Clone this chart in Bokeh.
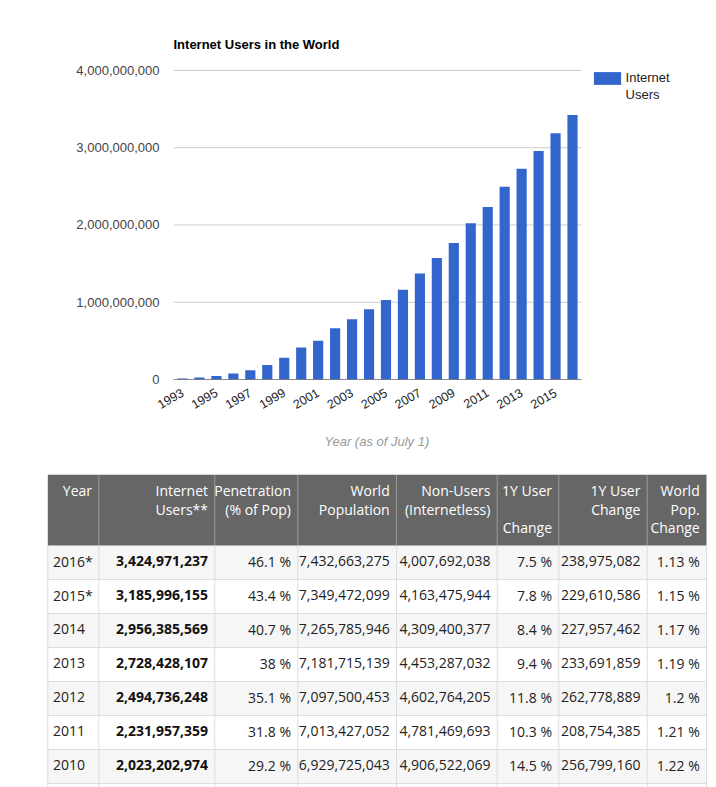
import math
from bokeh.plotting import figure
from bokeh.models import (Range1d, FixedTicker, NumeralTickFormatter, ColumnDataSource,
                          Legend, LegendItem, Title)
from bokeh.embed import file_html
from bokeh.resources import INLINE
from bokeh.core.properties import value

# ---------------- data ----------------
years = list(range(1993, 2017))
internet_users = [14161570, 25454590, 44838900, 77433860, 120758310, 188023930,
                  280866670, 413425190, 500609240, 662663600, 778555680, 910060180,
                  1027580990, 1160335280, 1373226988, 1571601630, 1766206240,
                  2023202974, 2231957359, 2494736248, 2728428107, 2956385569,
                  3185996155, 3424971237]
y_ticks = [0, 1000000000, 2000000000, 3000000000, 4000000000]
x_ticks = list(range(1993, 2016, 2))
legend_lines = ["Internet", "Users"]

table_years = ["2016*", "2015*", "2014", "2013", "2012", "2011", "2010"]
table_users = [3424971237, 3185996155, 2956385569, 2728428107, 2494736248, 2231957359, 2023202974]
penetration = ["46.1 %", "43.4 %", "40.7 %", "38 %", "35.1 %", "31.8 %", "29.2 %"]
world_population = [7432663275, 7349472099, 7265785946, 7181715139, 7097500453, 7013427052, 6929725043]
non_users = [4007692038, 4163475944, 4309400377, 4453287032, 4602764205, 4781469693, 4906522069]
user_change_pct = ["7.5 %", "7.8 %", "8.4 %", "9.4 %", "11.8 %", "10.3 %", "14.5 %"]
user_change = [238975082, 229610586, 227957462, 233691859, 262778889, 208754385, 256799160]
pop_change_pct = ["1.13 %", "1.15 %", "1.17 %", "1.19 %", "1.2 %", "1.21 %", "1.22 %"]
header_lines = [["Year"], ["Internet", "Users**"], ["Penetration", "(% of Pop)"],
                ["World", "Population"], ["Non-Users", "(Internetless)"],
                ["1Y User", "", "Change"], ["1Y User", "Change"], ["World", "Pop.", "Change"]]

# ---------------- chart ----------------
FONT = "Liberation Sans"
CH_W, CH_H = 716, 465
FR_L, FR_T, FR_B = 173, 60, 379          # plot frame (extends to the right edge for the legend)
X0, X1 = 1992.47, 2016.53                # data area of the bar chart (173..581 px)
px_per_year = (581 - FR_L) / (X1 - X0)
x_end = X0 + (CH_W - FR_L) / px_per_year

p = figure(width=CH_W, height=CH_H, output_backend="svg", toolbar_location=None,
           x_range=Range1d(X0, x_end), y_range=Range1d(0, 4.129e9),
           min_border_left=FR_L, min_border_right=0, min_border_top=FR_T,
           min_border_bottom=CH_H - FR_B)
p.outline_line_color = None
p.xgrid.visible = False
p.ygrid.visible = False

# horizontal grid lines at the y ticks, spanning the bar area only
p.segment(x0=[X0] * len(y_ticks), x1=[X1] * len(y_ticks), y0=y_ticks, y1=y_ticks,
          line_color="#cccccc", line_width=1)

src = ColumnDataSource(dict(year=years, users=internet_users))
bars = p.vbar(x="year", top="users", width=0.6, source=src,
              fill_color="#3366cc", line_color=None)
ghost = p.vbar(x=[1993], top=[0], width=0.6, fill_alpha=0, line_alpha=0)
# baseline
p.segment(x0=[X0], x1=[X1], y0=[0], y1=[0], line_color="#333333", line_width=1)

p.title.text = "Internet Users in the World"
p.title.text_font = FONT
p.title.text_font_size = "13px"
p.title.text_color = "#000000"
p.title.align = "left"
p.title.standoff = 18
p.title.offset = 0

p.yaxis.ticker = FixedTicker(ticks=y_ticks)
p.yaxis.formatter = NumeralTickFormatter(format="0,0")
p.yaxis.axis_line_color = None
p.yaxis.major_tick_line_color = None
p.yaxis.minor_tick_line_color = None
p.yaxis.major_tick_out = 0
p.yaxis.major_tick_in = 0
p.yaxis.major_label_standoff = 14
p.yaxis.major_label_text_font = FONT
p.yaxis.major_label_text_font_size = "13px"
p.yaxis.major_label_text_color = "#444444"

p.xaxis.ticker = FixedTicker(ticks=x_ticks)
p.xaxis.axis_line_color = None
p.xaxis.major_tick_line_color = None
p.xaxis.minor_tick_line_color = None
p.xaxis.major_tick_out = 0
p.xaxis.major_tick_in = 0
p.xaxis.major_label_orientation = math.pi / 6
p.xaxis.major_label_standoff = 12
p.xaxis.major_label_text_font = FONT
p.xaxis.major_label_text_font_size = "12.5px"
p.xaxis.major_label_text_color = "#222222"

# x-axis title, centred under the bar area
axis_title = "Year (as of July 1)"
x_title = Title(text=axis_title, align="left", offset=151, standoff=30,
                text_font=FONT, text_font_size="13px", text_font_style="italic",
                text_color="#999999")
p.add_layout(x_title, "below")

# legend (screen units, inside the extended frame)
leg_left, leg_top, leg_h = 589.6, 69.9, 33
legend = Legend(items=[LegendItem(label=value(legend_lines[0]), renderers=[bars]),
                       LegendItem(label=value(legend_lines[1]), renderers=[ghost])],
                location=(leg_left - FR_L, (FR_B - leg_top) - leg_h),
                margin=0, padding=0, spacing=1,
                border_line_color=None, background_fill_alpha=0,
                glyph_width=34, glyph_height=16, label_height=16, label_standoff=2,
                label_text_font=FONT, label_text_font_size="13px",
                label_text_color="#222222")
p.add_layout(legend)

# ---------------- table ----------------
TB_TOP, TB_BOT = CH_H, 787
t = figure(width=716, height=TB_BOT - TB_TOP, output_backend="svg", toolbar_location=None,
           x_range=Range1d(0, 716), y_range=Range1d(TB_BOT, TB_TOP),
           x_axis_type=None, y_axis_type=None,
           min_border_left=0, min_border_right=0, min_border_top=0, min_border_bottom=0)
t.outline_line_color = None
t.xgrid.visible = False
t.ygrid.visible = False

col_edges = [47.3, 98.3, 214.3, 297.3, 396.0, 496.7, 558.3, 646.7, 706.0]
head_top, head_bottom = 474.3, 545.0
row_h = 34.0
pad = 6.8
line_h = 18.5
first_line_y = 490.0

n = len(table_years)
row_tops = [head_bottom + i * row_h for i in range(n)]
row_mid = [rt + row_h / 2 - 1.2 for rt in row_tops]

t.quad(left=[col_edges[0]] * n, right=[col_edges[-1]] * n,
       top=row_tops, bottom=[rt + row_h for rt in row_tops],
       fill_color=["#f6f6f6" if i % 2 == 0 else "#ffffff" for i in range(n)],
       line_color=None)
t.quad(left=[col_edges[0]], right=[col_edges[-1]], top=[head_top], bottom=[head_bottom],
       fill_color="#666666", line_color=None)
t.segment(x0=col_edges, x1=col_edges, y0=[head_bottom] * len(col_edges),
          y1=[TB_BOT] * len(col_edges), line_color="#dddddd", line_width=1)
hl = [rt + row_h for rt in row_tops]
t.segment(x0=[col_edges[0]] * n, x1=[col_edges[-1]] * n, y0=hl, y1=hl,
          line_color="#dddddd", line_width=1)
inner = col_edges[1:-1]
t.segment(x0=inner, x1=inner, y0=[head_top] * len(inner), y1=[head_bottom] * len(inner),
          line_color="#9a9a9a", line_width=1)

hx, hy, ht = [], [], []
for ci, lines in enumerate(header_lines):
    for li, txt in enumerate(lines):
        if txt:
            hx.append(col_edges[ci + 1] - pad)
            hy.append(first_line_y + li * line_h)
            ht.append(txt)
t.text(x=hx, y=hy, text=ht, text_align="right", text_baseline="middle",
       text_font=value("Open Sans"), text_font_size="14px", text_color="#ffffff")


def fmt(v):
    return f"{v:,}"


t.text(x=[col_edges[0] + 5.2] * n, y=row_mid, text=table_years, text_align="left",
       text_baseline="middle", text_font=value("Open Sans"), text_font_size="14px",
       text_color="#222222")
t.text(x=[col_edges[2] - pad] * n, y=row_mid, text=[fmt(v) for v in table_users],
       text_align="right", text_baseline="middle", text_font=value("Open Sans"),
       text_font_size="14px", text_font_style="bold", text_color="#111111")
other_cols = [penetration, [fmt(v) for v in world_population], [fmt(v) for v in non_users],
              user_change_pct, [fmt(v) for v in user_change], pop_change_pct]
for k, col in enumerate(other_cols):
    t.text(x=[col_edges[k + 3] - pad] * n, y=row_mid, text=col, text_align="right",
           text_baseline="middle", text_font=value("Open Sans"), text_font_size="14px",
           text_color="#222222")

open("out.html", "w").write(file_html([p, t], INLINE))
